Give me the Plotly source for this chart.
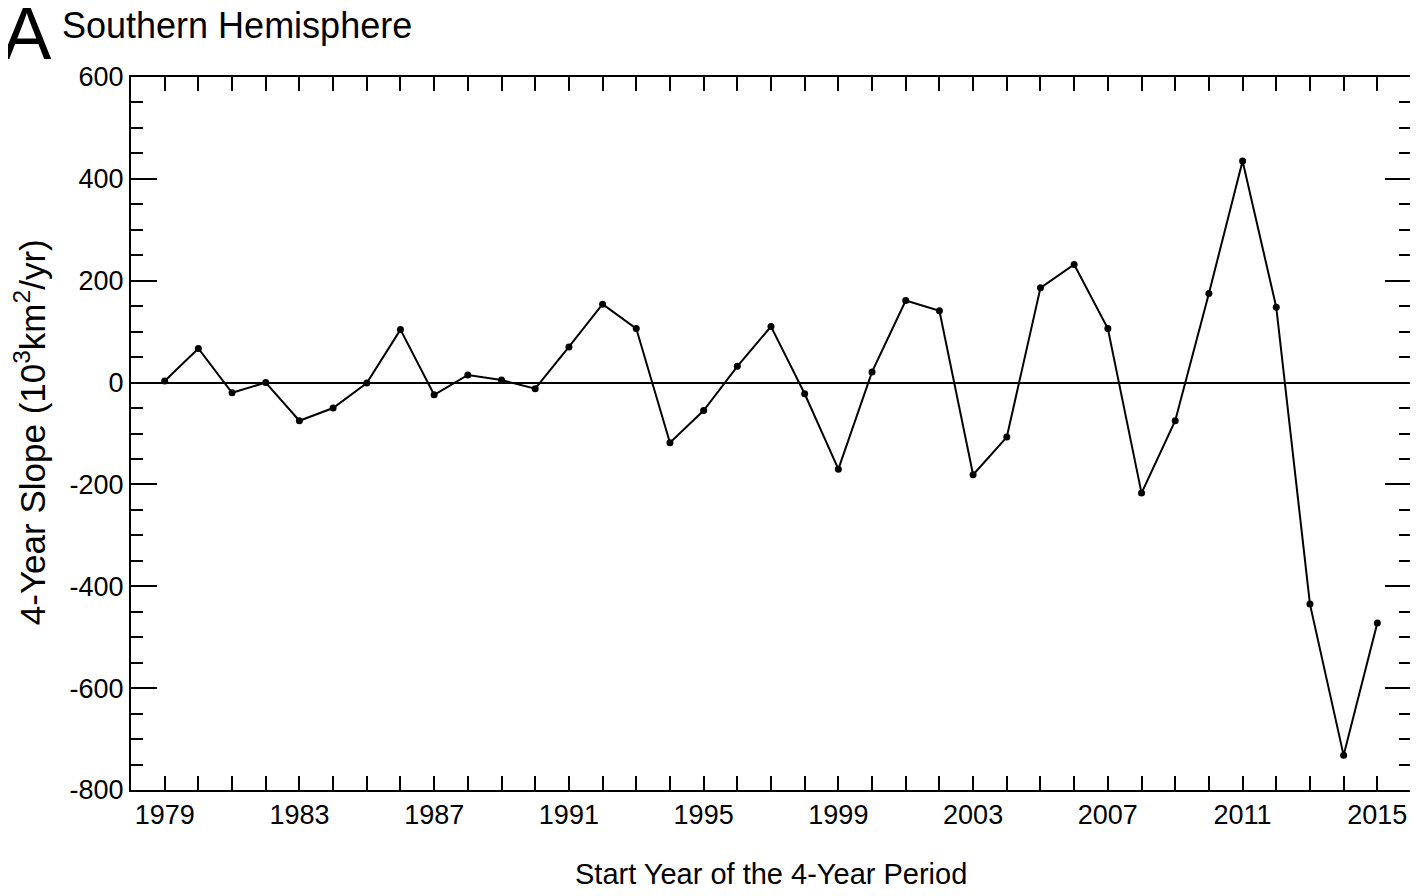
import plotly.graph_objects as go

years = list(range(1979, 2016))
slope = [3, 67, -20, 0, -75, -50, -1, 104, -24, 15, 5, -12,
         70, 154, 106, -118, -55, 32, 110, -22, -170, 21, 161, 141,
         -181, -107, 186, 232, 106, -217, -75, 175, 435, 148, -435, -732, -472]

x_tick_vals = list(range(1979, 2016, 4))
x_tick_text = [str(v) for v in x_tick_vals]
y_tick_vals = list(range(-800, 601, 200))
y_tick_text = [str(v) for v in y_tick_vals]

# page offset of the plot div (default body margin)
OFF = 8
W, H = 1410, 880
L, R, T = 131 - OFF, 5, 77 - OFF
B = H - (790 - OFF)
pw, ph = W - L - R, H - T - B


def px(xp):
    return (xp - OFF - L) / pw


def py(yp):
    return 1 - (yp - OFF - T) / ph


FONT = "Liberation Sans, Arial, Helvetica, sans-serif"

fig = go.Figure()
fig.add_trace(go.Scatter(
    x=years, y=slope, mode="lines+markers",
    line=dict(color="black", width=2),
    marker=dict(color="black", size=7, symbol="circle"),
    showlegend=False,
))

fig.update_layout(
    width=W, height=H,
    margin=dict(l=L, r=R, t=T, b=B),
    paper_bgcolor="white", plot_bgcolor="white",
    font=dict(family=FONT, color="black", size=27),
    xaxis=dict(
        range=[1978, 2016], tickmode="array", tickvals=x_tick_vals, ticktext=x_tick_text,
        ticks="inside", ticklen=14, tickwidth=2, tickcolor="black",
        minor=dict(dtick=1, tick0=1979, ticks="inside", ticklen=14, tickwidth=2, tickcolor="black", showgrid=False),
        showline=True, linecolor="black", linewidth=2, mirror="ticks",
        showgrid=False, zeroline=False, tickfont=dict(size=27),
    ),
    yaxis=dict(
        range=[-800, 600], tickmode="array", tickvals=y_tick_vals, ticktext=y_tick_text,
        ticks="inside", ticklen=26, tickwidth=2, tickcolor="black",
        minor=dict(dtick=50, tick0=0, ticks="inside", ticklen=12, tickwidth=2, tickcolor="black", showgrid=False),
        showline=True, linecolor="black", linewidth=2, mirror="ticks",
        showgrid=False, zeroline=True, zerolinecolor="black", zerolinewidth=1.5,
        tickfont=dict(size=27),
    ),
    annotations=[
        dict(text="A", xref="paper", yref="paper", x=px(0), y=py(33), xanchor="left", yanchor="middle",
             showarrow=False, font=dict(size=74, family=FONT)),
        dict(text="Southern Hemisphere", xref="paper", yref="paper", x=px(60), y=py(26),
             xanchor="left", yanchor="middle", showarrow=False, font=dict(size=36, family=FONT)),
        dict(text="Start Year of the 4-Year Period", xref="paper", yref="paper", x=px(772), y=py(874),
             xanchor="center", yanchor="middle", showarrow=False, font=dict(size=29, family=FONT)),
        dict(text="4-Year Slope (10<sup>3</sup>km<sup>2</sup>/yr)",
             xref="paper", yref="paper",
             x=px(30), y=py(432), xanchor="center", yanchor="middle", textangle=-90,
             showarrow=False, font=dict(size=35, family=FONT)),
    ],
)

fig.write_html("out.html")
